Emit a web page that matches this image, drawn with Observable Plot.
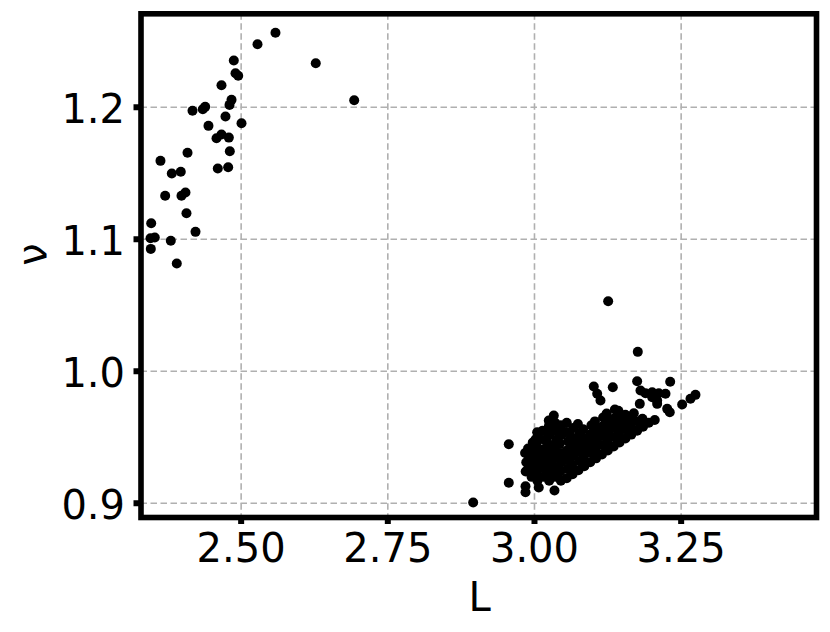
<!DOCTYPE html>
<html><head><meta charset="utf-8">
<script src="https://cdn.jsdelivr.net/npm/d3@7"></script>
<script src="https://cdn.jsdelivr.net/npm/@observablehq/plot@0.6"></script>
<style>body{margin:0;background:#fff;} svg{display:block;}</style>
</head><body><div id="chart"></div>
<script>
const xTicks = [2.5, 2.75, 3.0, 3.25];
const yTicks = [0.9, 1.0, 1.1, 1.2];

// [L, nu] upper-left branch
const upperBranch = [
  [2.5585,1.2564],[2.5279,1.2477],[2.6272,1.2333],[2.4875,1.2354],[2.4904,1.2258],
  [2.4950,1.2238],[2.4665,1.2167],[2.6927,1.2053],[2.4836,1.2056],[2.4802,1.2018],
  [2.4171,1.1973],[2.4346,1.1985],[2.4387,1.2003],[2.4733,1.1930],[2.5006,1.1879],
  [2.4443,1.1859],[2.4580,1.1765],[2.4665,1.1793],[2.4790,1.1770],[2.4807,1.1667],
  [2.4086,1.1655],[2.3625,1.1594],[2.3818,1.1498],[2.3971,1.1511],[2.4602,1.1536],
  [2.4779,1.1545],[2.3705,1.1329],[2.3983,1.1329],[2.4051,1.1354],[2.4068,1.1197],
  [2.3467,1.1121],[2.4222,1.1056],[2.3455,1.1008],[2.3528,1.1013],[2.3801,1.0988],
  [2.3460,1.0927],[2.3903,1.0816]
];

// [L, nu] scattered points around the lower-right cluster
const isolated = [
  [3.1256,1.0530],[3.1761,1.0147],[2.9562,0.9447],[2.9562,0.9155],[2.9847,0.9129],
  [2.9847,0.9083],[3.0073,0.9119],[3.0341,0.9096],[3.1011,0.9884],[3.1069,0.9829],
  [3.1125,0.9778],[3.1335,0.9879],[3.1750,0.9924],[3.2313,0.9920],[3.1807,0.9854],
  [3.1892,0.9833],[3.2006,0.9841],[3.2119,0.9833],[3.2233,0.9829],[3.2006,0.9803],
  [3.2091,0.9778],[3.2091,0.9753],[3.2744,0.9821],[3.2659,0.9791],[3.2517,0.9748],
  [3.1795,0.9753],[3.1693,0.9682],[3.2262,0.9715],[3.2306,0.9689],[3.0046,0.9538],
  [3.0329,0.9664],[3.0244,0.9627],[3.0244,0.9576],[3.0443,0.9576],[2.8955,0.9005]
];

// [L, nu] dense lower-right cluster
const denseCore = [
  [2.985,0.924],[2.986,0.931],[2.984,0.938],
  [2.995,0.920],[2.996,0.927],[2.994,0.934],[2.995,0.941],[2.997,0.946],
  [3.005,0.917],[3.004,0.924],[3.006,0.931],[3.005,0.938],[3.003,0.945],[3.006,0.951],
  [3.015,0.920],[3.016,0.927],[3.014,0.934],[3.015,0.941],[3.017,0.948],[3.014,0.955],
  [3.025,0.917],[3.024,0.924],[3.026,0.931],[3.025,0.938],[3.023,0.945],[3.026,0.952],[3.025,0.959],
  [3.035,0.920],[3.036,0.927],[3.034,0.934],[3.035,0.941],[3.037,0.948],[3.034,0.955],[3.035,0.961],
  [3.045,0.917],[3.044,0.924],[3.046,0.931],[3.045,0.938],[3.043,0.945],[3.046,0.952],[3.045,0.959],
  [3.055,0.919],[3.056,0.926],[3.054,0.933],[3.055,0.940],[3.057,0.947],[3.054,0.954],[3.055,0.961],
  [3.065,0.922],[3.064,0.929],[3.066,0.936],[3.065,0.943],[3.063,0.950],[3.066,0.957],
  [3.075,0.925],[3.076,0.932],[3.074,0.939],[3.075,0.946],[3.077,0.953],[3.074,0.960],
  [3.085,0.928],[3.084,0.935],[3.086,0.942],[3.085,0.949],[3.083,0.956],
  [3.095,0.931],[3.096,0.938],[3.094,0.945],[3.095,0.952],[3.097,0.959],
  [3.105,0.934],[3.104,0.941],[3.106,0.948],[3.105,0.955],[3.103,0.962],
  [3.115,0.937],[3.116,0.944],[3.114,0.951],[3.115,0.958],[3.117,0.965],
  [3.125,0.940],[3.124,0.947],[3.126,0.954],[3.125,0.961],[3.123,0.968],
  [3.135,0.943],[3.136,0.950],[3.134,0.957],[3.135,0.964],[3.137,0.971],
  [3.145,0.946],[3.144,0.953],[3.146,0.960],[3.145,0.966],[3.143,0.970],
  [3.155,0.949],[3.156,0.956],[3.154,0.963],[3.155,0.967],
  [3.165,0.952],[3.164,0.959],[3.166,0.964],
  [3.175,0.955],[3.176,0.962],
  [3.185,0.958],[3.184,0.964],
  [3.195,0.961],
  [3.205,0.963],
  [3.010,0.936],[3.030,0.943],[3.050,0.936],[3.070,0.948],[3.090,0.944],
  [3.110,0.953],[3.130,0.959],[3.150,0.958],[3.060,0.932],[3.080,0.940],
  [2.990,0.9275],[2.991,0.9345],[2.989,0.9415],
  [3.000,0.9205],[3.001,0.9275],[2.999,0.9345],[3.000,0.9415],[3.002,0.9485],
  [3.020,0.9205],[3.021,0.9275],[3.019,0.9345],[3.020,0.9485],[3.022,0.9555],
  [3.040,0.9205],[3.041,0.9275],[3.039,0.9345],[3.040,0.9485],[3.042,0.9555],
  [3.060,0.9255],[3.061,0.9395],[3.059,0.9465],[3.060,0.9535],
  [3.080,0.9315],[3.081,0.9385],[3.079,0.9525],
  [3.100,0.9375],[3.101,0.9445],[3.099,0.9515],[3.100,0.9585],
  [3.120,0.9435],[3.121,0.9505],[3.119,0.9575],[3.120,0.9645],
  [3.140,0.9495],[3.141,0.9565],[3.139,0.9635],
  [3.160,0.9545],[3.161,0.9615],
  [3.180,0.9605]
];

const points = [...upperBranch, ...isolated, ...denseCore].map(([L, nu]) => ({L, nu}));

const gridStyle = {stroke: "#b0b0b0", strokeOpacity: 1, strokeWidth: 1.6, strokeDasharray: "6.5,3.5"};

const chart = Plot.plot({
  width: 830,
  height: 632,
  marginLeft: 140.5,
  marginRight: 14,
  marginTop: 13.3,
  marginBottom: 115,
  style: {fontFamily: "DejaVu Sans", background: "white", color: "black", overflow: "visible"},
  x: {domain: [2.3293, 3.4807]},
  y: {domain: [0.8892, 1.2708]},
  marks: [
    Plot.gridX(xTicks, gridStyle),
    Plot.gridY(yTicks, gridStyle),
    Plot.dot(points, {x: "L", y: "nu", r: 5, fill: "black", stroke: "none"}),
    Plot.frame({stroke: "black", strokeWidth: 5.6}),
    Plot.axisX(xTicks, {tickSize: 7, tickPadding: 9, strokeWidth: 6, stroke: "black", fontSize: 40, tickFormat: d => d.toFixed(2), label: null}),
    Plot.axisY(yTicks, {tickSize: 7, strokeWidth: 6, stroke: "black", tickFormat: () => "", label: null}),
    Plot.axisY(yTicks, {tickSize: 0, tickPadding: 16, dy: 3, fontSize: 40, tickFormat: d => d.toFixed(1), label: null}),
    Plot.text(["L"], {frameAnchor: "bottom", lineAnchor: "bottom", dy: 93, dx: 1, fontSize: 40, fill: "black"}),
    Plot.text(["ν"], {frameAnchor: "left", rotate: -90, dx: -108.3, fontSize: 40, fill: "black"})
  ]
});
document.getElementById("chart").appendChild(chart);
</script>
</body></html>
